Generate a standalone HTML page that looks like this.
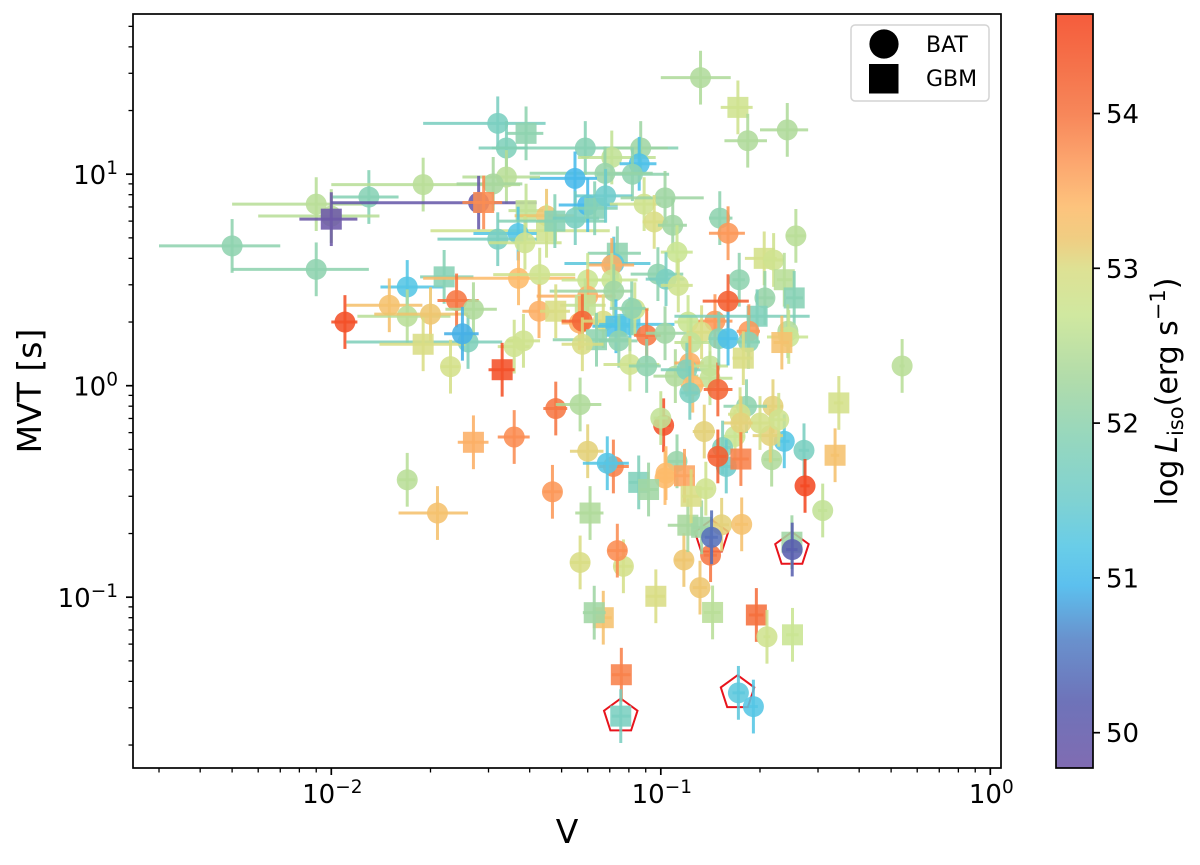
<!DOCTYPE html>
<html lang="en">
<head>
<meta charset="utf-8">
<title>MVT vs V scatter</title>
<style>
html,body{margin:0;padding:0;background:#fff;}
svg{display:block;font-family:"DejaVu Sans","Liberation Sans",sans-serif;}
</style>
</head>
<body>
<svg id="chart" xmlns="http://www.w3.org/2000/svg" width="1200" height="865" viewBox="0 0 1200 865">
  <defs>
    <linearGradient id="cbar-gradient" x1="0" y1="1" x2="0" y2="0"></linearGradient>
    <clipPath id="plot-clip"><rect x="133" y="14" width="868" height="754"></rect></clipPath>
  </defs>
  <rect x="0" y="0" width="1200" height="865" fill="#fff"></rect>
  <g id="flagged" clip-path="url(#plot-clip)"></g>
  <g id="points" clip-path="url(#plot-clip)"></g>
  <g id="axes"></g>
  <rect x="133" y="14" width="868" height="754" fill="none" stroke="#000" stroke-width="1.7"></rect>
  <text x="567" y="843" font-size="33" text-anchor="middle" fill="#000">V</text>
  <text transform="translate(41,391) rotate(-90)" font-size="33" text-anchor="middle" fill="#000">MVT [s]</text>
  <g>
    <rect x="851" y="25" width="138" height="76" rx="4" fill="#fff" fill-opacity="0.8" stroke="#d4d4d4" stroke-width="1.5"></rect>
    <circle cx="884" cy="44" r="14.6" fill="#000"></circle>
    <text x="926" y="52" font-size="22" fill="#000">BAT</text>
    <rect x="869" y="64" width="29.5" height="29.5" fill="#000"></rect>
    <text x="926" y="86" font-size="22" fill="#000">GBM</text>
  </g>
  <g>
    <rect x="1056" y="14" width="37" height="754" fill="url(#cbar-gradient)"></rect>
    <rect x="1056" y="14" width="37" height="754" fill="none" stroke="#000" stroke-width="1.7"></rect>
    <g id="cbar-ticks"></g>
    <text transform="translate(1177,391.5) rotate(-90)" font-size="30" text-anchor="middle" fill="#000">log<tspan dx="7" font-style="italic">L</tspan><tspan font-size="21" dy="6">iso</tspan><tspan dy="-6">(erg s</tspan><tspan font-size="21" dy="-12">−1</tspan><tspan dy="12">)</tspan></text>
  </g>
</svg>
<script>
// Chart data
const instrument = [
'c','c','c','c','c','s','c','c','c','c',
'c','c','c','s','c','s','c','c','c','c',
'c','c','c','c','c','c','c','s','s','c',
's','c','c','c','s','c','c','s','c','c',
'c','c','c','c','s','c','c','s','c','c',
'c','c','c','s','c','c','c','c','c','c',
'c','s','c','c','c','s','c','c','c','c',
's','s','s','c','c','c','c','c','c','c',
'c','c','c','c','c','c','c','c','c','c',
'c','c','c','s','c','c','c','c','c','s',
'c','s','s','c','c','c','s','c','c','c',
's','c','c','c','s','c','c','c','s','c',
'c','c','c','c','c','c','s','c','c','c',
's','s','s','s','c','c','s','c','s','s',
's','c','c','c','s','s','c','c','c','s',
'c','c','c','c','c','s','s','c','c','c',
'c','c','c','c','c','c','c','c','s','c',
'c','c','c','c','c','c','s','s','s','s',
'c','c'
];
const vValues = [
.005,.009,.009,.013,.01,.01,.019,.017,.015,.017,
.02,.011,.026,.019,.032,.039,.034,.059,.0869,.071,
.086,.082,.0677,.0549,.034,.031,.028,.029,.039,.045,
.045,.0369,.032,.0387,.0477,.055,.06,.063,.068,.089,
.103,.0955,.1087,.112,.0738,.072,.071,.022,.037,.0429,
.06,.071,.06,.059,.072,.098,.1037,.113,.024,.027,
.0427,.048,.0359,.0383,.025,.033,.023,.0566,.0578,.0669,
.0731,.0806,.0638,.0578,.0834,.0816,.0746,.0906,.103,.0806,
.0906,.121,.146,.133,.1235,.1107,.1225,.12,.141,.141,
.125,.149,.132,.1714,.1836,.242,.151,.16,.257,.206,
.22,.237,.254,.173,.207,.16,.196,.185,.243,.2445,
.233,.15,.16,.1845,.178,.54,.048,.0569,.027,.0359,
.06,.0718,.0688,.017,.021,.0469,.061,.0569,.077,.0738,
.0669,.0628,.0759,.0756,.172,.191,.195,.21,.251,.1436,
.0966,.1315,.1175,.1416,.1208,.133,.153,.176,.1426,.25,
.2505,.31,.272,.274,.237,.338,.347,.217,.215,.219,
.228,.2,.168,.182,.174,.175,.154,.158,.175,.149,
.1355,.102,.1,.112,.1037,.103,.118,.0857,.0918,.1236,
.137,.1225
];
const vLower = [
.003,.005,.005,.01,.006,.008,.01,.0141,.0111,.012,
.0135,.01,.0111,.014,.019,.034,.028,.0307,.07,.056,
.075,.064,.04,.04,.025,.024,.01,.025,.0345,.036,
.02,.027,.021,.03,.032,.047,.049,.054,.055,.07,
.0755,.088,.098,.1,.06,.051,.06,.0186,.019,.031,
.05,.06,.042,.0495,.046,.081,.09,.1,.021,.0222,
.038,.043,.032,.034,.022,.03,.0215,.05,.05,.058,
.062,.065,.047,.05,.075,.07,.065,.083,.09,.067,
.08,.11,.13,.12,.11,.095,.11,.1,.125,.12,
.115,.135,.1,.152,.156,.2,.14,.14,.24,.18,
.205,.225,.24,.165,.195,.134,.11,.17,.23,.21,
.22,.14,.15,.17,.165,.53,.044,.048,.0242,.032,
.053,.065,.058,.016,.016,.044,.055,.053,.072,.069,
.063,.058,.071,.071,.165,.185,.185,.205,.24,.135,
.09,.125,.11,.135,.105,.125,.145,.168,.136,.24,
.24,.3,.262,.265,.228,.328,.335,.205,.19,.205,
.215,.185,.155,.155,.16,.155,.145,.15,.165,.14,
.125,.097,.095,.105,.098,.097,.11,.08,.086,.116,
.13,.115
];
const vUpper = [
.007,.013,.0125,.016,.014,.012,.0374,.022,.0189,.023,
.026,.012,.033,.0255,.0447,.044,.0395,.113,.105,.0965,
.097,.106,.0945,.064,.043,.038,.042,.033,.044,.055,
.07,.042,.042,.05,.068,.065,.074,.074,.082,.1,
.135,.105,.12,.125,.087,.093,.083,.027,.055,.055,
.07,.085,.073,.068,.082,.117,.118,.125,.028,.0318,
.048,.053,.04,.043,.028,.036,.0245,.064,.066,.075,
.085,.11,.08,.067,.092,.09,.085,.1,.12,.099,
.1,.135,.165,.145,.14,.13,.135,.14,.16,.165,
.135,.165,.163,.19,.21,.28,.165,.18,.275,.225,
.235,.25,.27,.18,.22,.185,.283,.2,.255,.28,
.245,.16,.17,.2,.19,.55,.052,.066,.03,.04,
.067,.08,.08,.018,.026,.05,.067,.061,.082,.079,
.071,.068,.081,.081,.18,.197,.205,.215,.262,.152,
.103,.138,.125,.148,.13,.141,.161,.184,.149,.26,
.26,.32,.282,.283,.246,.348,.358,.23,.235,.235,
.24,.215,.18,.21,.185,.19,.163,.167,.185,.158,
.146,.107,.105,.12,.11,.109,.126,.092,.098,.131,
.144,.13
];
const mvtValues = [
4.58,3.55,7.22,7.8,6.34,6.13,8.93,2.93,2.4,2.13,
2.18,2,1.61,1.57,17.4,15.6,13.3,13.3,13.3,12,
11.2,10,10.1,9.55,9.7,9,7.33,7.35,6.73,6.36,
5.4,5.24,4.93,4.74,6,6.2,7.15,6.9,7.9,7.22,
7.73,5.95,5.74,4.28,4.23,3.78,3.72,3.27,3.22,3.35,
3.16,3.16,2.65,2.4,2.8,3.37,3.19,2.98,2.53,2.3,
2.25,2.25,1.53,1.63,1.76,1.19,1.23,1.98,2.02,2.02,
1.91,1.95,1.65,1.57,2.3,2.32,1.63,1.73,1.77,1.26,
1.24,2,2.02,1.79,1.6,1.11,1.28,1.19,1.24,1.085,
1,.96,28.6,20.7,14.4,16.2,6.2,5.26,5.11,4,
3.93,3.17,2.6,3.17,2.6,2.51,2.13,1.81,1.81,1.7,
1.6,1.67,1.67,1.61,1.35,1.24,.78,.815,.54,.572,
.49,.415,.43,.359,.25,.315,.25,.146,.14,.166,
.08,.0845,.043,.0274,.0353,.0304,.0824,.065,.0664,.0847,
.101,.111,.15,.158,.219,.214,.22,.221,.192,.182,
.168,.257,.495,.336,.546,.469,.829,.447,.581,.8,
.69,.666,.576,.8,.733,.666,.51,.415,.45,.463,
.607,.65,.703,.439,.386,.366,.375,.349,.323,.3,
.326,.925
];
const logLiso = [
52,52,52.5,51.9,52.5,49.8,52.5,51.2,53.3,52.5,
53.2,54.5,51.8,53,51.7,52,51.8,51.9,52.2,52.6,
51.1,52,52.1,51,52.5,52.3,49.9,53.8,52.6,53.2,
52.8,51.2,51.7,52.8,51.9,51.7,51,51.9,51.5,52.8,
52.2,53,52.2,52.7,52,51.3,53.5,51.9,53.4,52.8,
52.7,52.7,53.5,52.6,52.2,52,51.7,52.8,54,52.4,
53.5,53,52.8,52.8,50.9,54.5,52.9,53.5,54.2,53,
51.1,51.2,52,53,52.8,52,52,54,52.2,52.8,
52,52.7,53.7,53,52.6,52.4,53.5,51.8,52.6,52.6,
53.4,54.2,52.4,52.8,52.4,52.4,52,53.7,52.5,52.9,
52.8,52.5,51.9,52,52.1,54.3,51.8,53.7,52.4,52.7,
53.3,51.9,51.1,51.9,53,52.5,54,52.4,53.5,53.8,
53.1,53.9,51.2,52.5,53.3,53.7,52.4,53,52.9,53.8,
53.3,52.2,53.9,51.7,51.3,51.2,54.1,52.8,52.7,52.5,
53,53.2,53.2,54,52.3,52.2,53.1,53.3,50.4,52.2,
50.2,52.6,51.7,54.6,51.2,53.3,52.9,52.4,53.1,53.1,
52.8,52.9,52.7,52,52.9,53.1,51.8,51.5,53.9,54.3,
53.1,54.5,52.6,52.1,53.4,53.4,53.6,51.8,52.2,53,
52.8,51.7
];
const mvtErrorFactor = [1.34];
const flaggedV = [.0756,.171,.1426,.25];
const flaggedMvt = [.0274,.0353,.192,.168];
const xTickPowers = [-2,-1,0];
const yTickPowers = [-1,0,1];
const minorMultiples = [2,3,4,5,6,7,8,9];
const colorbarTicks = [50,51,52,53,54];
const colorLevels = [49.77,50.2,50.6,50.95,51.2,51.5,51.9,52.3,52.7,53.0,53.2,53.4,53.7,54.0,54.3,54.65];
const colorReds   = [128,110,105,92,105,128,150,178,208,222,240,253,252,247,245,245];
const colorGreens = [108,115,145,192,205,210,215,220,232,225,205,195,165,135,115,92];
const colorBlues  = [178,185,205,238,232,210,190,170,160,148,130,125,110,90,75,60];

// Axis functions
const xScale = v => 331.3 + 329.5 * (Math.log10(v) + 2);
const yScale = m => 385.7 - 211.5 * Math.log10(m);
const cScale = l => 113.5 + 154.8 * (54 - l);
const SVGNS = 'http://www.w3.org/2000/svg';
const MARKER_ALPHA = 0.88;
const BAR_ALPHA = 0.85;
const MARKER_RADIUS = 10.5;

function makeEl(tag, attrs, parent) {
  const el = document.createElementNS(SVGNS, tag);
  for (const k in attrs) el.setAttribute(k, attrs[k]);
  parent.appendChild(el);
  return el;
}
function displayedColor(l) {
  const n = colorLevels.length;
  const c = Math.max(colorLevels[0], Math.min(colorLevels[n - 1], l));
  let i = 0;
  while (i < n - 2 && c > colorLevels[i + 1]) i++;
  const t = (c - colorLevels[i]) / (colorLevels[i + 1] - colorLevels[i]);
  return [colorReds, colorGreens, colorBlues].map(a => a[i] + t * (a[i + 1] - a[i]));
}
function rawColor(l, alpha) {
  // colour that gives the displayed tone on white at the given alpha
  const ch = displayedColor(l).map(c => {
    const r = (c - (1 - alpha) * 255) / alpha;
    return Math.round(Math.max(0, Math.min(255, r)));
  });
  return 'rgb(' + ch.join(',') + ')';
}

// Colorbar gradient
const grad = document.getElementById('cbar-gradient');
colorLevels.forEach(l => {
  const off = (l - colorLevels[0]) / (colorLevels[colorLevels.length - 1] - colorLevels[0]);
  const ch = displayedColor(l).map(Math.round);
  makeEl('stop', {offset: off, 'stop-color': 'rgb(' + ch.join(',') + ')'}, grad);
});

// Flagged events (red pentagons)
const flaggedGroup = document.getElementById('flagged');
flaggedV.forEach((v, i) => {
  const cx = xScale(v), cy = yScale(flaggedMvt[i]), R = 17.6;
  const pts = [0,1,2,3,4].map(k => {
    const a = -Math.PI / 2 + k * 2 * Math.PI / 5;
    return (cx + R * Math.cos(a)).toFixed(1) + ',' + (cy + R * Math.sin(a)).toFixed(1);
  }).join(' ');
  const p = makeEl('polygon', {points: pts, fill: 'none', stroke: '#e8141c', 'stroke-width': 2}, flaggedGroup);
  
  
});

// Points with error bars
const pointGroup = document.getElementById('points');
vValues.forEach((v, i) => {
  const x = xScale(v), y = yScale(mvtValues[i]);
  const barColor = rawColor(logLiso[i], BAR_ALPHA);
  const fillColor = rawColor(logLiso[i], MARKER_ALPHA);
  const g = makeEl('g', {}, pointGroup);
  
  
  const hBar = makeEl('line', {x1: xScale(vLower[i]), x2: xScale(vUpper[i]), y1: y, y2: y, stroke: barColor, 'stroke-width': 3, 'stroke-opacity': BAR_ALPHA}, g);
  
  
  const vBar = makeEl('line', {x1: x, x2: x, y1: yScale(mvtValues[i] * mvtErrorFactor[0]), y2: yScale(mvtValues[i] / mvtErrorFactor[0]), stroke: barColor, 'stroke-width': 3, 'stroke-opacity': BAR_ALPHA}, g);
  
  
  let m;
  if (instrument[i] === 'c') {
    m = makeEl('circle', {cx: x, cy: y, r: MARKER_RADIUS, fill: fillColor, 'fill-opacity': MARKER_ALPHA}, g);
  } else {
    m = makeEl('rect', {x: x - MARKER_RADIUS, y: y - MARKER_RADIUS, width: 2 * MARKER_RADIUS, height: 2 * MARKER_RADIUS, fill: fillColor, 'fill-opacity': MARKER_ALPHA}, g);
  }
  
  
});

// Axes ticks
const axesGroup = document.getElementById('axes');
function powerLabel(x, y, anchor, power, baseSize, supSize, rise) {
  const t = makeEl('text', {x: x, y: y, 'text-anchor': anchor, 'font-size': baseSize, fill: '#000'}, axesGroup);
  const a = makeEl('tspan', {}, t);
  a.textContent = '10';
  const b = makeEl('tspan', {dy: -rise, 'font-size': supSize}, t);
  b.textContent = String(power).replace('-', '−');
  return t;
}
function tickLine(x1, y1, x2, y2, w, name) {
  const l = makeEl('line', {x1: x1, y1: y1, x2: x2, y2: y2, stroke: '#000', 'stroke-width': w}, axesGroup);
  
  
}
for (let p = -3; p <= 0; p++) {
  minorMultiples.forEach(k => {
    const px = xScale(k * Math.pow(10, p));
    if (px > 133 && px < 1001) tickLine(px, 768, px, 772.5, 1.3, 'x-minor-tick');
  });
}
for (let p = -2; p <= 1; p++) {
  minorMultiples.forEach(k => {
    const py = yScale(k * Math.pow(10, p));
    if (py > 14 && py < 768) tickLine(133, py, 128.5, py, 1.3, 'y-minor-tick');
  });
}
xTickPowers.forEach(p => {
  const px = xScale(Math.pow(10, p));
  tickLine(px, 768, px, 775, 1.7, 'x-major-tick');
  const lab = powerLabel(px + 1, 803, 'middle', p, 26, 18.5, 10);
  
  
});
yTickPowers.forEach(p => {
  const py = yScale(Math.pow(10, p));
  tickLine(133, py, 126, py, 1.7, 'y-major-tick');
  const lab = powerLabel(118, py + 10, 'end', p, 26, 18.5, 10);
  
  
});

// Colorbar ticks
const cbarTicks = document.getElementById('cbar-ticks');
colorbarTicks.forEach(v => {
  const y = cScale(v);
  const l = makeEl('line', {x1: 1093, y1: y, x2: 1100, y2: y, stroke: '#000', 'stroke-width': 1.7}, cbarTicks);
  
  
  const t = makeEl('text', {x: 1106, y: y + 9.5, 'font-size': 26, fill: '#000'}, cbarTicks);
  t.textContent = String(v);
  
  
});
</script>
</body>
</html>
